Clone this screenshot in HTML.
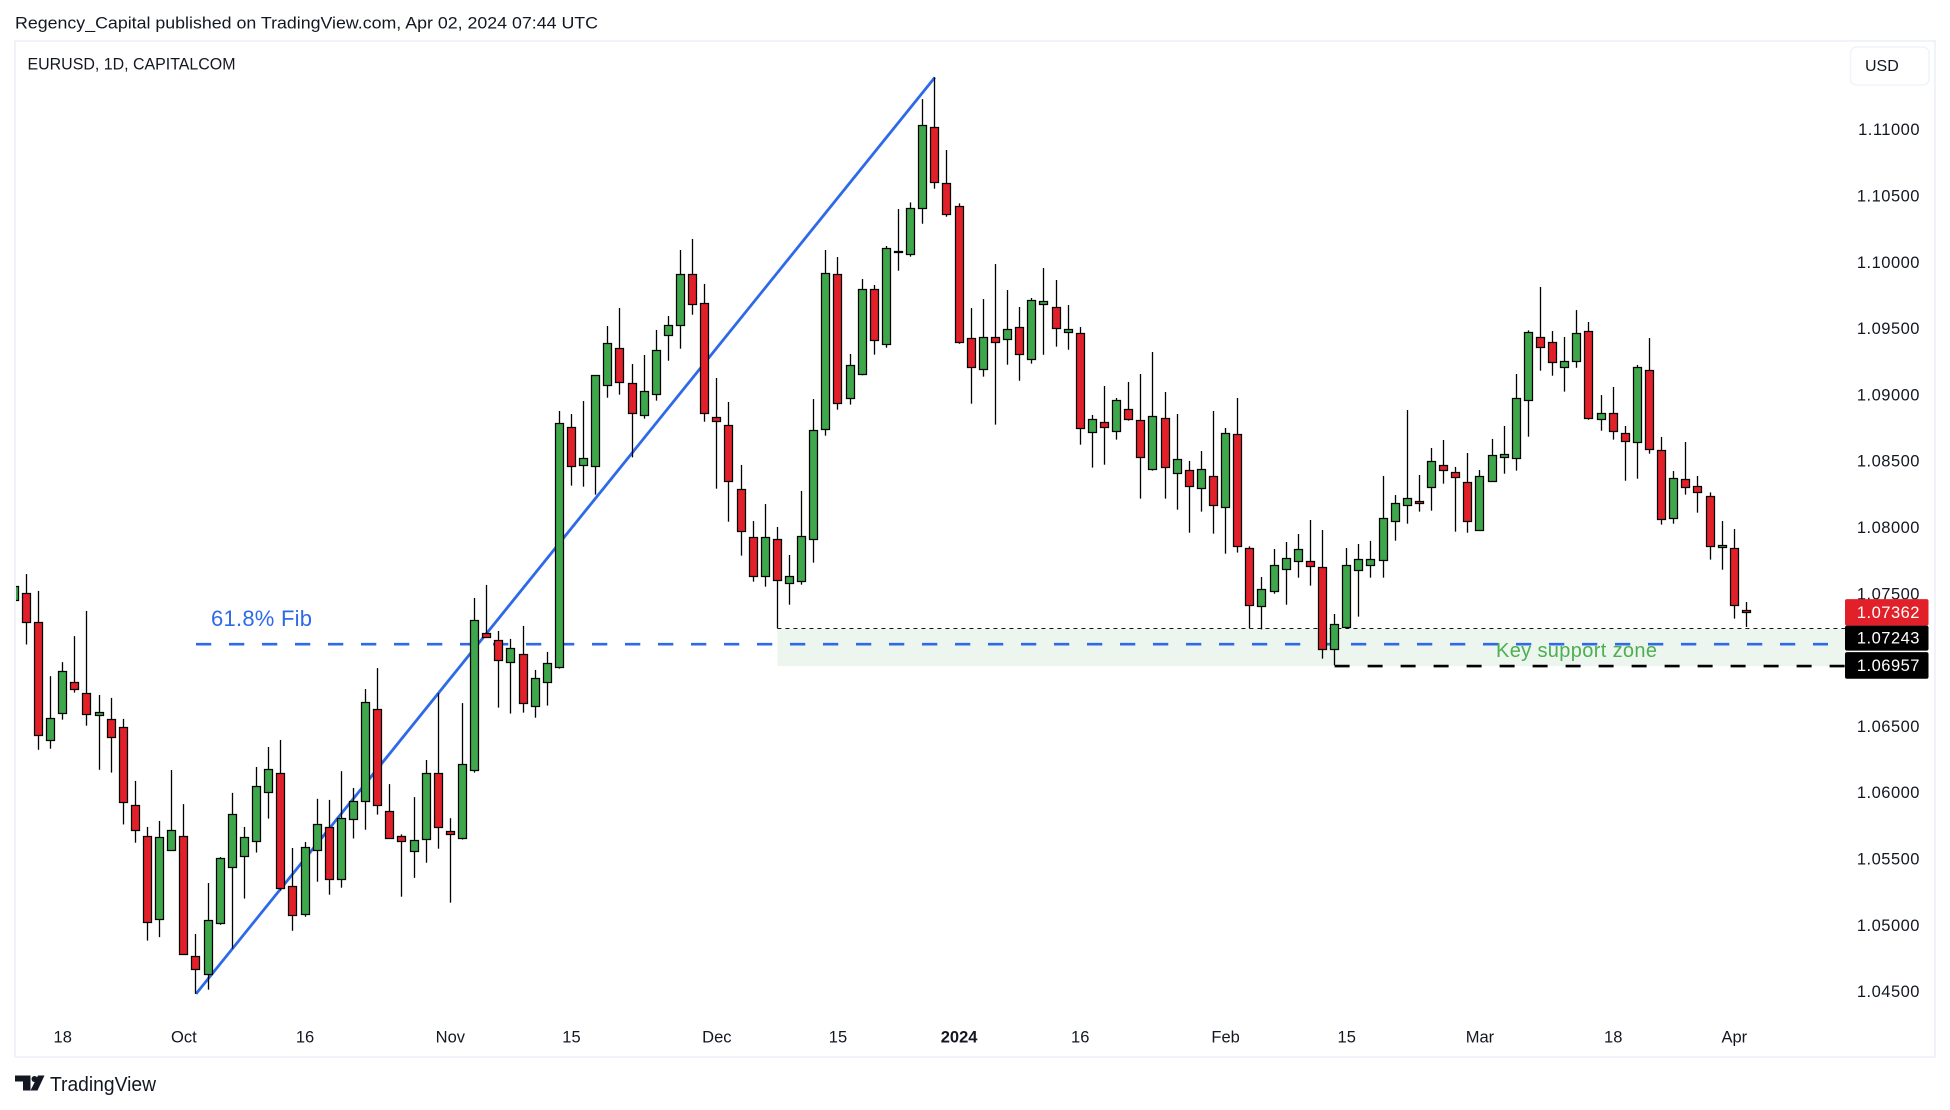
<!DOCTYPE html>
<html lang="en">
<head>
<meta charset="utf-8">
<title>EURUSD, 1D, CAPITALCOM</title>
<style>
html,body{margin:0;padding:0;background:#fff;width:1950px;height:1110px;overflow:hidden}
svg{display:block;font-family:"Liberation Sans",sans-serif}
</style>
</head>
<body>
<svg id="chart" xmlns="http://www.w3.org/2000/svg" width="1950" height="1110" viewBox="0 0 1950 1110">
  <defs><clipPath id="plot-clip"><rect x="16" y="42" width="1829" height="1014"/></clipPath></defs>
  <rect x="0" y="0" width="1950" height="1110" fill="#ffffff"/>
  <text x="15" y="28.5" font-size="17" fill="#131722" textLength="583" lengthAdjust="spacingAndGlyphs">Regency_Capital published on TradingView.com, Apr 02, 2024 07:44 UTC</text>
  <rect x="15" y="41" width="1920" height="1016" fill="none" stroke="#f0f3fa" stroke-width="2"/>
  <text x="27.5" y="69.5" font-size="17" fill="#131722" textLength="208" lengthAdjust="spacingAndGlyphs">EURUSD, 1D, CAPITALCOM</text>
  <g>
    <rect x="1850.5" y="47" width="78.5" height="38" rx="6" fill="#fff" stroke="#f0f3fa" stroke-width="1.5"/>
    <text x="1865" y="71" font-size="16" fill="#131722">USD</text>
  </g>
  <g id="annotations-back" clip-path="url(#plot-clip)"></g>
  <g id="candles" clip-path="url(#plot-clip)"></g>
  <text id="zone-label" x="1496" y="657" font-size="20" fill="#4caf50" textLength="161" lengthAdjust="spacing">Key support zone</text>
  <text id="fib-label" x="211" y="626" font-size="22" fill="#2e6ae8" textLength="101" lengthAdjust="spacing">61.8% Fib</text>
  <g id="y-axis"></g>
  <g id="x-axis"></g>
  <g id="price-tags"></g>
  <g>
    <path d="M15 1075.5H30.5V1090.5H23V1081.5H15ZM38 1075.5H44.5L37.5 1090.5H30.5Z" fill="#131722"/>
    <circle cx="34.5" cy="1079" r="3" fill="#131722"/>
    <text x="50" y="1091" font-size="20" fill="#131722" textLength="106" lengthAdjust="spacingAndGlyphs">TradingView</text>
  </g>
</svg>
<script>
const opens = [1.07453,1.07506,1.07286,1.06397,1.06601,1.06834,1.06752,1.06585,1.06556,1.06495,1.05913,1.05673,1.05048,1.05567,1.05673,1.04768,1.04633,1.05017,1.05440,1.05522,1.05636,1.06006,1.06149,1.05297,1.05085,1.05567,1.05741,1.05350,1.05802,1.05937,1.06630,1.05868,1.05673,1.05561,1.05651,1.06149,1.05710,1.05657,1.06170,1.07204,1.07152,1.06986,1.07046,1.06654,1.06835,1.06948,1.08758,1.08471,1.08464,1.09074,1.09353,1.09089,1.08848,1.09007,1.09451,1.09527,1.09911,1.09693,1.08833,1.08773,1.08290,1.07928,1.07634,1.07913,1.07581,1.07596,1.07913,1.08743,1.09911,1.08976,1.09157,1.09798,1.09384,1.10082,1.10062,1.10409,1.11020,1.10598,1.10424,1.09429,1.09195,1.09436,1.09421,1.09512,1.09270,1.09685,1.09662,1.09474,1.09466,1.08720,1.08795,1.08728,1.08893,1.08810,1.08441,1.08826,1.08411,1.08433,1.08298,1.08388,1.08154,1.08705,1.07845,1.07408,1.07521,1.07687,1.07747,1.07747,1.07702,1.07084,1.07249,1.07679,1.07717,1.07755,1.08049,1.08170,1.08200,1.08305,1.08471,1.08418,1.08343,1.07981,1.08350,1.08531,1.08524,1.08961,1.09436,1.09399,1.09210,1.09255,1.09481,1.08818,1.08863,1.08712,1.08644,1.09187,1.08584,1.08071,1.08365,1.08313,1.08237,1.07853,1.07845,1.07378];
const highs = [1.07559,1.07651,1.07524,1.06881,1.06987,1.07183,1.07373,1.06739,1.06717,1.06559,1.06091,1.05744,1.05789,1.06173,1.05916,1.04937,1.05321,1.05517,1.06001,1.05744,1.06196,1.06347,1.06400,1.05585,1.05630,1.05956,1.05948,1.06165,1.06038,1.06784,1.06942,1.06067,1.05688,1.05969,1.06249,1.06752,1.05810,1.06678,1.07471,1.07569,1.07222,1.07162,1.07260,1.06928,1.07064,1.08881,1.08858,1.08956,1.09150,1.09522,1.09658,1.09235,1.09303,1.09492,1.09597,1.10095,1.10178,1.09839,1.09130,1.08949,1.08474,1.08051,1.08179,1.08006,1.07795,1.08278,1.08971,1.10095,1.10042,1.09311,1.09876,1.09831,1.10125,1.10404,1.10454,1.11233,1.11397,1.10849,1.10447,1.09657,1.09725,1.09989,1.09793,1.09665,1.09733,1.09959,1.09869,1.09680,1.09514,1.08851,1.09069,1.08979,1.09100,1.09160,1.09326,1.09024,1.08858,1.08504,1.08579,1.08881,1.08753,1.08979,1.07860,1.07629,1.07840,1.07893,1.07953,1.08059,1.07983,1.07350,1.07848,1.07878,1.07901,1.08391,1.08247,1.08888,1.08398,1.08602,1.08662,1.08459,1.08564,1.08436,1.08670,1.08768,1.09160,1.09489,1.09816,1.09484,1.09439,1.09642,1.09552,1.09001,1.09062,1.08768,1.09228,1.09431,1.08685,1.08428,1.08647,1.08391,1.08267,1.08051,1.07991,1.07440];
const lows = [1.07453,1.07120,1.06326,1.06334,1.06553,1.06757,1.06508,1.06175,1.06154,1.05763,1.05625,1.04887,1.04913,1.05567,1.04784,1.04485,1.04517,1.05006,1.04826,1.05204,1.05551,1.05807,1.05265,1.04961,1.05067,1.05331,1.05233,1.05286,1.05657,1.05723,1.05837,1.05657,1.05218,1.05360,1.05474,1.05580,1.05173,1.05649,1.06154,1.07174,1.06644,1.06599,1.06606,1.06568,1.06659,1.06938,1.08318,1.08310,1.08250,1.08981,1.09004,1.08531,1.08823,1.08959,1.09260,1.09351,1.09607,1.08800,1.08295,1.08046,1.07790,1.07594,1.07556,1.07242,1.07420,1.07571,1.07737,1.08695,1.08891,1.08929,1.09150,1.09306,1.09358,1.09939,1.10045,1.10293,1.10557,1.10346,1.09388,1.08936,1.09140,1.08778,1.09230,1.09109,1.09238,1.09305,1.09366,1.09343,1.08627,1.08454,1.08476,1.08665,1.08808,1.08220,1.08431,1.08220,1.08137,1.07963,1.08122,1.07956,1.07805,1.07813,1.07242,1.07234,1.07503,1.07420,1.07624,1.07564,1.07013,1.06963,1.07242,1.07330,1.07624,1.07624,1.07903,1.08031,1.08122,1.08129,1.08333,1.07971,1.07963,1.07981,1.08350,1.08408,1.08431,1.08687,1.09185,1.09147,1.09027,1.09207,1.08815,1.08732,1.08665,1.08355,1.08370,1.08559,1.08024,1.08031,1.08250,1.08114,1.07760,1.07684,1.07315,1.07252];
const closes = [1.07559,1.07291,1.06434,1.06569,1.06918,1.06786,1.06593,1.06609,1.06426,1.05929,1.05718,1.05024,1.05665,1.05718,1.04784,1.04670,1.05040,1.05509,1.05839,1.05665,1.06051,1.06178,1.05281,1.05077,1.05591,1.05763,1.05355,1.05815,1.05937,1.06683,1.05911,1.05657,1.05636,1.05643,1.06149,1.05741,1.05688,1.06215,1.07302,1.07174,1.07001,1.07091,1.06677,1.06865,1.06978,1.08788,1.08464,1.08524,1.09150,1.09391,1.09097,1.08863,1.09029,1.09338,1.09527,1.09911,1.09685,1.08863,1.08803,1.08350,1.07973,1.07634,1.07928,1.07604,1.07634,1.07936,1.08735,1.09919,1.08939,1.09225,1.09798,1.09414,1.10108,1.10085,1.10409,1.11035,1.10605,1.10364,1.09398,1.09210,1.09436,1.09398,1.09497,1.09308,1.09715,1.09708,1.09504,1.09497,1.08750,1.08818,1.08758,1.08961,1.08818,1.08531,1.08841,1.08456,1.08516,1.08313,1.08441,1.08170,1.08712,1.07860,1.07415,1.07536,1.07717,1.07770,1.07838,1.07709,1.07084,1.07272,1.07717,1.07762,1.07762,1.08071,1.08185,1.08222,1.08185,1.08501,1.08433,1.08381,1.08049,1.08388,1.08547,1.08554,1.08976,1.09474,1.09361,1.09248,1.09255,1.09466,1.08825,1.08863,1.08727,1.08652,1.09210,1.08592,1.08064,1.08373,1.08305,1.08267,1.07860,1.07868,1.07415,1.07362];
const priceTicks = [1.11,1.105,1.10,1.095,1.09,1.085,1.08,1.075,1.07,1.065,1.06,1.055,1.05,1.045];
const timeLabels = ["18","Oct","16","Nov","15","Dec","15","2024","16","Feb","15","Mar","18","Apr"];
const timeCandles = [4,14,24,36,46,58,68,78,88,100,110,121,132,142];
const trendCandles = [15,76];
const trendPrices = [1.04485,1.11397];
const fibPrice = 1.07122;
const fibStartCandle = 15;
const zoneTop = 1.07243;
const zoneBottom = 1.06957;
const zoneStartCandle = 63;
const zoneLowStartCandle = 109;
const lastPrice = 1.07362;

const NS = "http://www.w3.org/2000/svg";
const AXIS_X = 1845;
function xOf(i){ return 14.29 + i * 12.113; }
function yOf(p){ return 130 + (1.11 - p) * 13260; }
function mk(tag, attrs, parent){
  const el = document.createElementNS(NS, tag);
  for (const k in attrs) el.setAttribute(k, attrs[k]);
  parent.appendChild(el);
  return el;
}

const back = document.getElementById("annotations-back");

const zoneRect = mk("rect", {x:xOf(zoneStartCandle), y:yOf(zoneTop)+0.7, width:AXIS_X-xOf(zoneStartCandle), height:yOf(zoneBottom)-yOf(zoneTop)-0.7, fill:"#ecf5ee"}, back);



const zoneTopLine = mk("line", {x1:xOf(zoneStartCandle), x2:AXIS_X, y1:Math.round(yOf(zoneTop))+0.5, y2:Math.round(yOf(zoneTop))+0.5, stroke:"#131722", "stroke-width":1, "stroke-dasharray":"4 4"}, back);



const zoneLowLine = mk("line", {x1:xOf(zoneLowStartCandle), x2:AXIS_X, y1:yOf(zoneBottom), y2:yOf(zoneBottom), stroke:"#000000", "stroke-width":2.6, "stroke-dasharray":"15 18"}, back);



const fibLine = mk("line", {x1:xOf(fibStartCandle), x2:1828, y1:yOf(fibPrice), y2:yOf(fibPrice), stroke:"#2e6ae8", "stroke-width":2.6, "stroke-dasharray":"15.3 17.7"}, back);



const trendLine = mk("line", {x1:xOf(trendCandles[0]), y1:yOf(trendPrices[0]), x2:xOf(trendCandles[1]), y2:yOf(trendPrices[1]), stroke:"#2e6ae8", "stroke-width":2.8}, back);



const candleGroup = document.getElementById("candles");
opens.forEach(function(o, i){
  const c = closes[i], h = highs[i], l = lows[i];
  const up = c >= o;
  const px = Math.round(xOf(i) - 0.5);
  const g = mk("g", {}, candleGroup);
  
  
  const yh = yOf(h), yl = yOf(l);
  const wick = mk("rect", {x:px-0.15, y:yh, width:1.3, height:Math.max(yl-yh,1), fill:"#000000"}, g);
  
  
  const top = Math.round(yOf(Math.max(o,c))), bot = Math.round(yOf(Math.min(o,c)));
  const body = mk("rect", {x:px-3.5, y:top+0.5, width:8, height:Math.max(bot-top,1), fill:up?"#3ea64b":"#e2202a", stroke:"#000000", "stroke-width":1.25}, g);
  
  
});

const yAxis = document.getElementById("y-axis");
priceTicks.forEach(function(p){
  const t = mk("text", {x:1920, y:yOf(p)+5.2, "text-anchor":"end", "font-size":16.5, "letter-spacing":"0.5", fill:"#131722"}, yAxis);
  
  
  t.textContent = p.toFixed(5);
});

const xAxis = document.getElementById("x-axis");
timeLabels.forEach(function(lab, k){
  const t = mk("text", {x:xOf(timeCandles[k]), y:1042.5, "text-anchor":"middle", "font-size":16.5, fill:"#131722"}, xAxis);
  if (lab === "2024") t.setAttribute("font-weight", "bold");
  
  
  t.textContent = lab;
});

const tags = document.getElementById("price-tags");
function tag(price, top, height, fill, name){
  const r = mk("rect", {x:1845, y:top, width:83.5, height:height, rx:2, fill:fill}, tags);
  
  
  const t = mk("text", {x:1920, y:top+height/2+5.4, "text-anchor":"end", "font-size":16.5, "letter-spacing":"0.5", fill:"#ffffff"}, tags);
  
  
  t.textContent = price.toFixed(5);
}
tag(lastPrice, yOf(lastPrice)-13.3, 26.7, "#e2202a", "last-price-tag");
tag(zoneTop, yOf(zoneTop)-2.5, 25, "#000000", "support-top-tag");
tag(zoneBottom, yOf(zoneBottom)-14, 26.7, "#000000", "support-low-tag");
</script>
</body>
</html>
